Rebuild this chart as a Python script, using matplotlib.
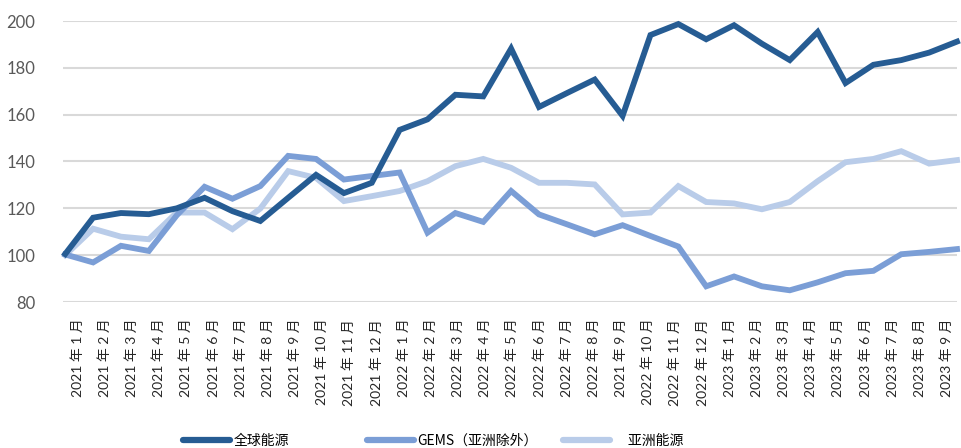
import matplotlib
matplotlib.use("Agg")
import matplotlib.pyplot as plt
from matplotlib.lines import Line2D
from matplotlib.transforms import ScaledTranslation

months = ["2021 年 1 月", "2021 年 2 月", "2021 年 3 月", "2021 年 4 月", "2021 年 5 月",
          "2021 年 6 月", "2021 年 7 月", "2021 年 8 月", "2021 年 9 月", "2021 年 10 月",
          "2021 年 11 月", "2021 年 12 月", "2022 年 1 月", "2022 年 2 月", "2022 年 3 月",
          "2022 年 4 月", "2022 年 5 月", "2022 年 6 月", "2022 年 7 月", "2022 年 8 月",
          "2021 年 9 月", "2022 年 10 月", "2022 年 11 月", "2022 年 12 月", "2023 年 1 月",
          "2023 年 2 月", "2023 年 3 月", "2023 年 4 月", "2023 年 5 月", "2023 年 6 月",
          "2023 年 7 月", "2023 年 8 月", "2023 年 9 月"]

global_energy = [100.5, 116, 118, 117.5, 120, 124.5, 118.8, 114.6, 124.5, 134.3,
                 126.5, 130.9, 153.5, 158, 168.5, 167.8, 188.2, 163.3, 169.2, 175,
                 159.5, 194, 198.7, 192.2, 198.2, 190.3, 183.3, 195.3, 173.5, 181.3,
                 183.3, 186.5, 191.2]
gems_ex_asia = [100.3, 96.9, 104, 101.8, 117, 129.2, 124.1, 129.5, 142.4, 141.1,
                132.3, 133.8, 135.3, 109.6, 118, 114.2, 127.4, 117.4, 113.2, 108.9,
                112.8, 108.2, 103.7, 86.7, 90.9, 86.7, 85, 88.4, 92.3, 93.3,
                100.4, 101.4, 102.6]
asia_energy = [100, 111.3, 107.9, 106.8, 118.2, 118.2, 111.1, 119.9, 135.9, 133,
               123.1, 125.2, 127.4, 131.6, 138, 141.1, 137.3, 130.9, 130.9, 130.2,
               117.4, 118.2, 129.5, 122.7, 122.1, 119.6, 122.7, 131.6, 139.7, 141.1,
               144.4, 139.1, 140.6]

series_names = ["全球能源", "GEMS（亚洲除外）", "亚洲能源"]
colors = ["#265C93", "#7B9ED6", "#B9CCE9"]
yticks = [80, 100, 120, 140, 160, 180, 200]

cjk = ["Lato", "Noto Sans CJK SC", "DejaVu Sans"]

fig = plt.figure(figsize=(9.61, 4.48), dpi=100)
ax = fig.add_axes([63 / 961, 1 - 302 / 448, (957 - 63) / 961, (302 - 21) / 448])

x = list(range(len(months)))
# draw order: light first, then medium, then dark
ax.plot(x, asia_energy, color=colors[2], lw=4.2, solid_joinstyle="miter", clip_on=False, zorder=3)
ax.plot(x, gems_ex_asia, color=colors[1], lw=4.2, solid_joinstyle="miter", clip_on=False, zorder=4)
ax.plot(x, global_energy, color=colors[0], lw=4.2, solid_joinstyle="miter", clip_on=False, zorder=5)

ax.set_ylim(80, 200)
ax.set_xlim(-0.08, 32)
ax.set_yticks(yticks)
ax.set_yticklabels([str(v) for v in yticks], fontfamily="Lato", fontsize=12, color="#595959")
ax.set_xticks(x)
ax.set_xticklabels(months, rotation=90, fontsize=10, color="#262626", family=cjk)
ax.tick_params(axis="both", length=0)
ax.tick_params(axis="y", pad=20)
ax.tick_params(axis="x", pad=12)
ax.grid(axis="y", color="#d9d9d9", lw=1.5)
ax.set_axisbelow(True)
for s in ax.spines.values():
    s.set_visible(False)

# category labels in the reference sit on a slightly narrower span than the points
for i, lbl in enumerate(ax.get_xticklabels()):
    dx = (12 - 0.7 * i) / 100.0
    lbl.set_transform(lbl.get_transform() + ScaledTranslation(dx, 0, fig.dpi_scale_trans))

leg_x = [183, 367, 563]
labels = [series_names[0], series_names[1], "\u3000" + series_names[2]]
for lx, lab, c in zip(leg_x, labels, colors):
    h = Line2D([], [], color=c, lw=4.5, solid_capstyle="round")
    fig.legend([h], [lab], loc="center left", bbox_to_anchor=(lx / 961, 1 - 441 / 448),
               frameon=False, borderpad=0, borderaxespad=0, handlelength=3.4,
               handletextpad=0.25, prop={"family": ["Noto Sans CJK SC", "DejaVu Sans"], "size": 10})

fig.savefig("out.png", dpi=100)
